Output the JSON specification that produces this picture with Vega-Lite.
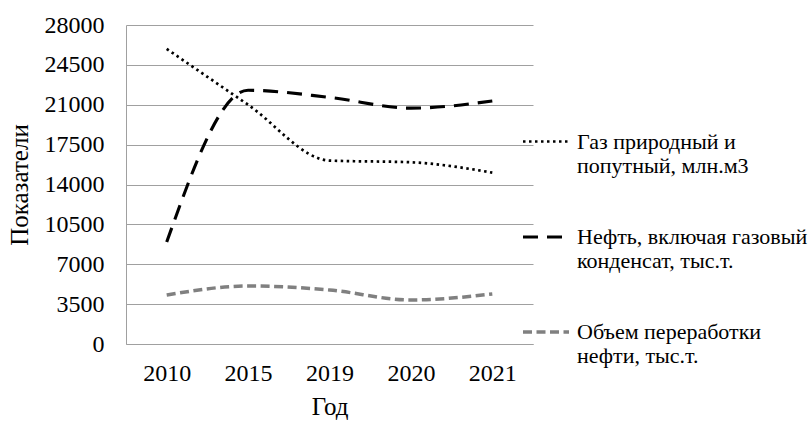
{
  "$schema": "https://vega.github.io/schema/vega-lite/v6.json",
  "autosize": {"type": "none"},
  "width": 407,
  "height": 319,
  "padding": {"left": 126, "top": 25, "right": 277, "bottom": 77},
  "background": "white",
  "config": {
    "font": "Times New Roman, Liberation Serif, serif",
    "view": {"stroke": null}
  },
  "data": {
    "values": [
      {"year": "2010", "series": "Газ природный и попутный, млн.м3", "value": 25900},
      {"year": "2015", "series": "Газ природный и попутный, млн.м3", "value": 21000},
      {"year": "2019", "series": "Газ природный и попутный, млн.м3", "value": 16100},
      {"year": "2020", "series": "Газ природный и попутный, млн.м3", "value": 15950},
      {"year": "2021", "series": "Газ природный и попутный, млн.м3", "value": 15040},
      {"year": "2010", "series": "Нефть, включая газовый конденсат, тыс.т.", "value": 8950},
      {"year": "2015", "series": "Нефть, включая газовый конденсат, тыс.т.", "value": 22270},
      {"year": "2019", "series": "Нефть, включая газовый конденсат, тыс.т.", "value": 21650},
      {"year": "2020", "series": "Нефть, включая газовый конденсат, тыс.т.", "value": 20700},
      {"year": "2021", "series": "Нефть, включая газовый конденсат, тыс.т.", "value": 21330},
      {"year": "2010", "series": "Объем переработки нефти, тыс.т.", "value": 4300},
      {"year": "2015", "series": "Объем переработки нефти, тыс.т.", "value": 5090},
      {"year": "2019", "series": "Объем переработки нефти, тыс.т.", "value": 4740},
      {"year": "2020", "series": "Объем переработки нефти, тыс.т.", "value": 3860},
      {"year": "2021", "series": "Объем переработки нефти, тыс.т.", "value": 4390}
    ]
  },
  "mark": {"type": "line", "interpolate": "monotone", "strokeCap": "butt"},
  "encoding": {
    "x": {
      "field": "year", "type": "ordinal", "title": "Год",
      "scale": {"paddingInner": 0, "paddingOuter": 0},
      "axis": {"labelAngle": 0, "ticks": false, "domainColor": "#a0a0a0", "labelPadding": 17, "titlePadding": 9, "grid": false,
        "labelFont": "Times New Roman, Liberation Serif, serif", "titleFont": "Times New Roman, Liberation Serif, serif", "labelColor": "black", "titleColor": "black", "titleFontWeight": "normal", "labelFontSize": 24, "titleFontSize": 25}
    },
    "y": {
      "field": "value", "type": "quantitative", "title": "Показатели",
      "scale": {"domain": [0, 28000], "nice": false},
      "axis": {"values": [0, 3500, 7000, 10500, 14000, 17500, 21000, 24500, 28000], "format": "d", "ticks": false, "domainColor": "#a0a0a0", "gridColor": "#a0a0a0", "labelPadding": 22, "titlePadding": 12,
        "labelFont": "Times New Roman, Liberation Serif, serif", "titleFont": "Times New Roman, Liberation Serif, serif", "labelColor": "black", "titleColor": "black", "titleFontWeight": "normal", "labelFontSize": 24, "titleFontSize": 25}
    },
    "color": {
      "field": "series", "type": "nominal",
      "scale": {"domain": ["Газ природный и попутный, млн.м3", "Нефть, включая газовый конденсат, тыс.т.", "Объем переработки нефти, тыс.т."], "range": ["#000000", "#000000", "#808080"]},
      "legend": {
        "title": null, "orient": "none", "legendX": 395, "legendY": 92,
        "symbolType": "stroke", "symbolSize": 2116,
        "labelFont": "Times New Roman, Liberation Serif, serif", "labelFontSize": 22, "labelColor": "black", "labelLimit": 400, "labelOffset": 6,
        "rowPadding": 35,
        "labelExpr": "datum.label == 'Газ природный и попутный, млн.м3' ? ['Газ природный и', 'попутный, млн.м3'] : datum.label == 'Нефть, включая газовый конденсат, тыс.т.' ? ['Нефть, включая газовый', 'конденсат, тыс.т.'] : ['Объем переработки', 'нефти, тыс.т.']"
      }
    },
    "strokeDash": {
      "field": "series", "type": "nominal",
      "scale": {"domain": ["Газ природный и попутный, млн.м3", "Нефть, включая газовый конденсат, тыс.т.", "Объем переработки нефти, тыс.т."], "range": [[2.5, 3.5], [15, 9], [9, 4.5]]}
    },
    "strokeWidth": {
      "field": "series", "type": "nominal",
      "scale": {"domain": ["Газ природный и попутный, млн.м3", "Нефть, включая газовый конденсат, тыс.т.", "Объем переработки нефти, тыс.т."], "range": [2.7, 3.5, 3]}
    }
  }
}
